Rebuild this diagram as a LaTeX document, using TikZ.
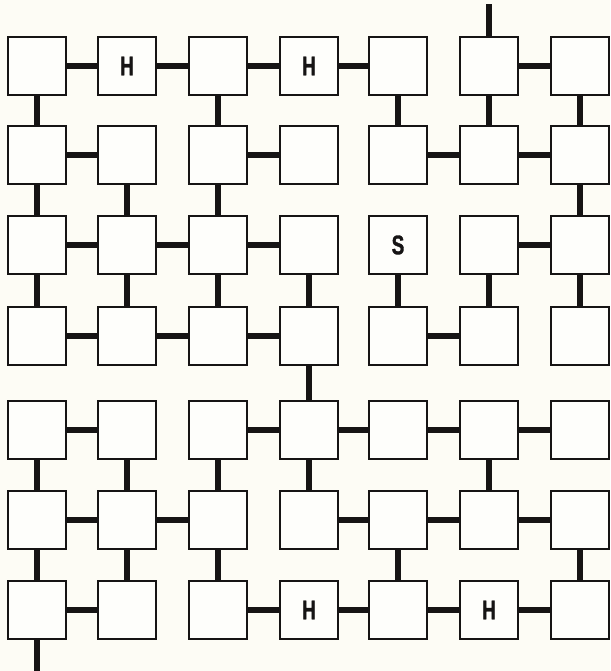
\documentclass[tikz,border=0pt]{standalone}
\usepackage{fontspec}
\newfontfamily\cellfont[FakeStretch=0.7, FakeBold=1.2]{Liberation Sans}
\definecolor{paper}{RGB}{253,252,245}
\definecolor{cellfill}{RGB}{254,254,251}
\definecolor{ink}{RGB}{22,20,20}

\begin{document}
\begin{tikzpicture}[
    x=0.3mm, y=-0.3mm,
    cell/.style={draw=ink, line width=0.6mm, fill=cellfill, minimum size=17.2mm, inner sep=0pt},
    link/.style={draw=ink, line width=1.8mm},
    letter/.style={text=ink, font=\cellfont\bfseries\fontsize{23}{23}\selectfont}
]
\fill[paper] (0,0) rectangle (610,671);
\useasboundingbox (0,0) rectangle (610,671);
% grid of rooms
\foreach \y [count=\r] in {66,155,245,336,430,520,610}
  \foreach \x [count=\c] in {37,127,218,309,398,489,580}
    \node[cell] (b-\r-\c) at (\x,\y) {};
% horizontal passages
\foreach \r/\c [evaluate=\c as \d using int(\c+1)] in {1/1,1/2,1/3,1/4,1/6,
    2/1,2/3,2/5,2/6, 3/1,3/2,3/3,3/6, 4/1,4/2,4/3,4/5,
    5/1,5/3,5/4,5/5,5/6, 6/1,6/2,6/4,6/5,6/6, 7/1,7/3,7/4,7/5,7/6}
  \draw[link] (b-\r-\c) -- (b-\r-\d);
% vertical passages
\foreach \r/\c [evaluate=\r as \s using int(\r+1)] in {1/1,1/3,1/5,1/6,1/7,
    2/1,2/2,2/3,2/7, 3/1,3/2,3/3,3/4,3/5,3/6,3/7, 4/4,
    5/1,5/2,5/3,5/4,5/6, 6/1,6/2,6/3,6/5,6/7}
  \draw[link] (b-\r-\c) -- (b-\s-\c);
% way in and way out
\coordinate (entry) at (489,4);
\coordinate (exit) at (37,671);
\draw[link] (entry) -- (b-1-6);
\draw[link] (b-7-1) -- (exit);
% marked rooms
\node[letter] (h-a) at (b-1-2) {H};
\node[letter] (h-b) at (b-1-4) {H};
\node[letter] (s-a) at (b-3-5) {S};
\node[letter] (h-c) at (b-7-4) {H};
\node[letter] (h-d) at (b-7-6) {H};
\end{tikzpicture}
\end{document}
